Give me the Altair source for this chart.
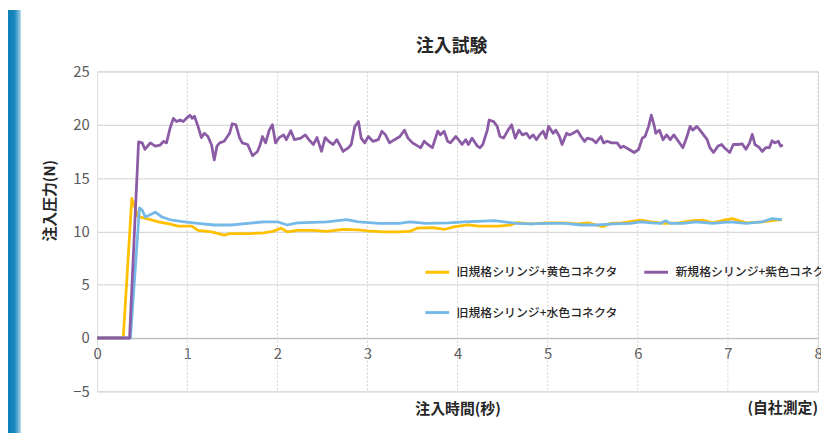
import altair as alt
import pandas as pd

FONT = "Noto Sans CJK JP"

CHART_TITLE = "注入試験"
X_TITLE = "注入時間(秒)"
Y_TITLE = "注入圧力(N)"
NOTE = "(自社測定)"

SERIES = ["旧規格シリンジ+黄色コネクタ", "新規格シリンジ+紫色コネクタ", "旧規格シリンジ+水色コネクタ"]
COLORS = ["#FFC000", "#8C5BA5", "#74B9E7"]

X_TICKS = [0, 1, 2, 3, 4, 5, 6, 7, 8]
X_GRID = [1, 2, 3, 4, 5, 6, 7, 8]
Y_TICKS = [-5, 0, 5, 10, 15, 20, 25]

yellow_t = [0, 0.29, 0.385, 0.41, 0.45, 0.55, 0.68, 0.80, 0.90, 1.05, 1.12, 1.27, 1.41, 1.48,
            1.60, 1.70, 1.85, 1.95, 2.04, 2.11, 2.22, 2.40, 2.55, 2.73, 2.90, 3.00, 3.17, 3.35,
            3.47, 3.55, 3.72, 3.86, 3.97, 4.12, 4.23, 4.45, 4.59, 4.66, 4.81, 4.99, 5.18, 5.34,
            5.45, 5.61, 5.70, 5.82, 6.03, 6.15, 6.30, 6.45, 6.61, 6.72, 6.83, 6.98, 7.05, 7.20,
            7.38, 7.49, 7.60]
yellow_v = [0, 0, 13.1, 12.5, 11.4, 11.2, 10.9, 10.7, 10.5, 10.5, 10.1, 9.96, 9.65, 9.8,
            9.8, 9.8, 9.87, 10.0, 10.3, 9.96, 10.1, 10.1, 10.0, 10.2, 10.15, 10.05, 9.96, 9.96,
            10.0, 10.3, 10.35, 10.2, 10.45, 10.6, 10.5, 10.5, 10.6, 10.83, 10.7, 10.8, 10.8, 10.7,
            10.8, 10.45, 10.75, 10.8, 11.05, 10.9, 10.75, 10.8, 11.0, 11.05, 10.8, 11.1, 11.2, 10.8,
            10.9, 11.0, 11.1]

blue_t = [0, 0.37, 0.47, 0.50, 0.535, 0.60, 0.645, 0.72, 0.83, 0.97, 1.12, 1.30, 1.49, 1.67,
          1.85, 2.00, 2.11, 2.22, 2.40, 2.55, 2.77, 2.90, 3.13, 3.35, 3.47, 3.65, 3.90, 4.08,
          4.41, 4.66, 4.81, 5.00, 5.19, 5.37, 5.55, 5.73, 5.92, 6.03, 6.15, 6.25, 6.31, 6.36,
          6.50, 6.65, 6.83, 7.02, 7.20, 7.38, 7.49, 7.60]
blue_v = [0, 0, 12.2, 12.0, 11.35, 11.6, 11.8, 11.35, 11.05, 10.9, 10.75, 10.6, 10.6, 10.75,
          10.9, 10.9, 10.6, 10.8, 10.85, 10.9, 11.1, 10.9, 10.75, 10.75, 10.9, 10.75, 10.8, 10.9,
          11.0, 10.75, 10.7, 10.75, 10.75, 10.6, 10.6, 10.7, 10.75, 10.9, 10.8, 10.75, 11.0, 10.75,
          10.75, 10.9, 10.75, 10.9, 10.75, 10.9, 11.2, 11.1]

purple_t = [0, 0.36, 0.46, 0.50, 0.53, 0.59, 0.645, 0.70, 0.736, 0.77, 0.81, 0.846, 0.88, 0.92,
            0.956, 0.99, 1.03, 1.055, 1.08, 1.12, 1.157, 1.19, 1.23, 1.27, 1.30, 1.33, 1.36, 1.41,
            1.47, 1.50, 1.54, 1.58, 1.61, 1.67, 1.725, 1.78, 1.81, 1.835, 1.87, 1.91, 1.945, 1.98,
            2.02, 2.07, 2.10, 2.15, 2.19, 2.26, 2.31, 2.35, 2.40, 2.44, 2.49, 2.53, 2.57, 2.62,
            2.66, 2.70, 2.73, 2.79, 2.82, 2.86, 2.90, 2.93, 2.97, 3.01, 3.06, 3.12, 3.16, 3.20,
            3.245, 3.30, 3.36, 3.41, 3.45, 3.50, 3.56, 3.59, 3.63, 3.67, 3.72, 3.78, 3.81, 3.85,
            3.89, 3.92, 3.98, 4.01, 4.05, 4.09, 4.12, 4.16, 4.22, 4.25, 4.28, 4.33, 4.35, 4.40,
            4.44, 4.47, 4.51, 4.56, 4.60, 4.64, 4.68, 4.72, 4.765, 4.80, 4.84, 4.875, 4.91, 4.95,
            4.98, 5.01, 5.06, 5.09, 5.13, 5.16, 5.21, 5.24, 5.28, 5.33, 5.37, 5.41, 5.44, 5.50,
            5.535, 5.59, 5.62, 5.66, 5.71, 5.77, 5.81, 5.84, 5.90, 5.96, 6.01, 6.05, 6.08, 6.12,
            6.15, 6.18, 6.20, 6.24, 6.28, 6.32, 6.36, 6.40, 6.45, 6.50, 6.54, 6.58, 6.61, 6.655,
            6.69, 6.73, 6.77, 6.80, 6.84, 6.89, 6.93, 6.96, 7.02, 7.06, 7.11, 7.16, 7.20, 7.24,
            7.27, 7.30, 7.35, 7.38, 7.42, 7.46, 7.49, 7.52, 7.56, 7.585, 7.61]
purple_v = [0, 0, 18.4, 18.3, 17.7, 18.3, 18.0, 18.1, 18.45, 18.3, 19.7, 20.6, 20.3, 20.45,
            20.3, 20.6, 20.9, 20.6, 20.8, 19.85, 18.8, 19.2, 18.9, 18.1, 16.7, 18.0, 18.3, 18.45,
            19.2, 20.1, 20.0, 18.8, 18.3, 18.15, 17.1, 17.5, 18.15, 18.9, 18.3, 19.5, 20.0, 18.3,
            18.8, 19.05, 18.6, 19.45, 18.6, 18.75, 19.05, 18.6, 18.15, 18.8, 17.5, 18.8, 18.45, 18.15,
            18.6, 18.0, 17.5, 17.85, 18.15, 19.85, 20.3, 18.75, 18.3, 18.9, 18.45, 18.6, 19.4, 19.05,
            18.3, 18.6, 18.9, 19.5, 18.75, 18.3, 18.0, 17.85, 18.45, 18.15, 17.85, 19.4, 19.05, 19.4,
            18.45, 18.3, 18.9, 18.6, 18.15, 18.6, 18.15, 18.75, 18.0, 17.85, 18.15, 19.5, 20.45, 20.3,
            19.85, 18.9, 18.75, 19.5, 20.0, 18.75, 19.5, 19.05, 19.2, 18.75, 19.05, 18.6, 19.05, 19.4,
            18.75, 19.85, 19.2, 19.5, 18.9, 18.15, 19.2, 19.05, 19.2, 19.45, 18.9, 18.45, 18.75, 18.6,
            18.3, 18.9, 18.3, 18.45, 18.3, 18.3, 17.85, 18.0, 17.7, 17.4, 17.7, 18.75, 18.9, 19.85,
            20.9, 20.0, 19.2, 19.5, 18.6, 19.05, 18.6, 19.05, 18.45, 17.85, 18.75, 19.85, 19.5, 19.85,
            19.5, 19.05, 18.6, 17.85, 17.4, 18.0, 18.15, 17.85, 17.4, 18.15, 18.15, 18.2, 17.7, 18.3,
            19.1, 18.15, 17.85, 17.5, 17.85, 17.85, 18.5, 18.3, 18.45, 18.0, 18.1]

# drawing order: yellow, blue, purple (purple on top)
frames = []
for name, ts, vs in [(SERIES[0], yellow_t, yellow_v),
                     (SERIES[2], blue_t, blue_v),
                     (SERIES[1], purple_t, purple_v)]:
    frames.append(pd.DataFrame({"t": ts, "v": vs, "series": name}))
df = pd.concat(frames, ignore_index=True)
grid_df = pd.DataFrame({"t": X_GRID})

W, H = 728, 323

x_scale = alt.Scale(domain=[0, 8], nice=False, zero=False)
y_scale = alt.Scale(domain=[-5, 25], nice=False, zero=False)

x_axis = alt.Axis(
    values=X_TICKS, title=X_TITLE, offset=-53.8, ticks=False, grid=False,
    domain=True, domainColor="#bfbfbf", domainWidth=1.2, labelFlush=False,
    labelFont=FONT, labelFontSize=15, labelColor="#595959", labelPadding=9,
    titleFont=FONT, titleFontSize=15, titleFontWeight="bold", titleColor="#262626",
    titleY=71, titleBaseline="middle",
)
y_axis = alt.Axis(
    values=Y_TICKS, title=Y_TITLE, ticks=False, domain=False,
    labelFont=FONT, labelFontSize=15, labelColor="#595959", labelPadding=8,
    grid=True, gridColor="#d9d9d9", gridWidth=1.2,
    titleFont=FONT, titleFontSize=15, titleFontWeight="bold", titleColor="#262626",
    titleX=-48, titleY=130, titleAngle=270, titleAlign="center", titleBaseline="middle",
)

color_enc = alt.Color(
    "series:N",
    scale=alt.Scale(domain=SERIES, range=COLORS),
    sort=SERIES,
    title=None,
    legend=alt.Legend(
        orient="none", legendX=330, legendY=189, columns=2, direction="horizontal",
        symbolType="stroke", symbolStrokeWidth=3, symbolSize=576,
        labelFont=FONT, labelFontSize=12, labelFontWeight=500, labelColor="#262626",
        labelOffset=6, columnPadding=20, rowPadding=21, labelLimit=400,
    ),
)

lines = (
    alt.Chart(df)
    .mark_line(strokeWidth=2.8, strokeJoin="round")
    .encode(
        x=alt.X("t:Q", scale=x_scale, axis=x_axis),
        y=alt.Y("v:Q", scale=y_scale, axis=y_axis),
        color=color_enc,
        order="t:Q",
    )
)

grid = alt.Chart(grid_df).mark_rule(
    color="#cfcfcf", strokeDash=[2, 2], strokeWidth=1
).encode(x=alt.X("t:Q", scale=x_scale, axis=x_axis), y=alt.value(0), y2=alt.value(H))

strip = alt.Chart(pd.DataFrame({"k": [0]})).mark_rect(
    fill=alt.Gradient(
        gradient="linear",
        stops=[alt.GradientStop(color="#0e7fb7", offset=0),
               alt.GradientStop(color="#1886bd", offset=0.5),
               alt.GradientStop(color="#a8d2ea", offset=1)],
        x1=0, x2=1, y1=0, y2=0,
    )
).encode(x=alt.value(-90), x2=alt.value(-77), y=alt.value(-62), y2=alt.value(370))

title = alt.Chart(pd.DataFrame({"label": [CHART_TITLE]})).mark_text(
    align="center", baseline="middle", font=FONT, fontSize=18, fontWeight="bold", color="#262626"
).encode(x=alt.value(W / 2 - 6), y=alt.value(-25), text="label:N")

note = alt.Chart(pd.DataFrame({"label": [NOTE]})).mark_text(
    align="right", baseline="middle", font=FONT, fontSize=15, fontWeight="bold", color="#262626"
).encode(x=alt.value(W), y=alt.value(340), text="label:N")

chart = alt.layer(
    strip,
    grid,
    lines,
    title,
    note,
).properties(
    width=W, height=H,
    padding={"left": 90, "top": 62, "right": 3, "bottom": 40},
    autosize=alt.AutoSizeParams(type="none"),
).configure_view(stroke=None).configure(background="white")

chart.save("out.html", embed_options={"renderer": "svg", "actions": False})
